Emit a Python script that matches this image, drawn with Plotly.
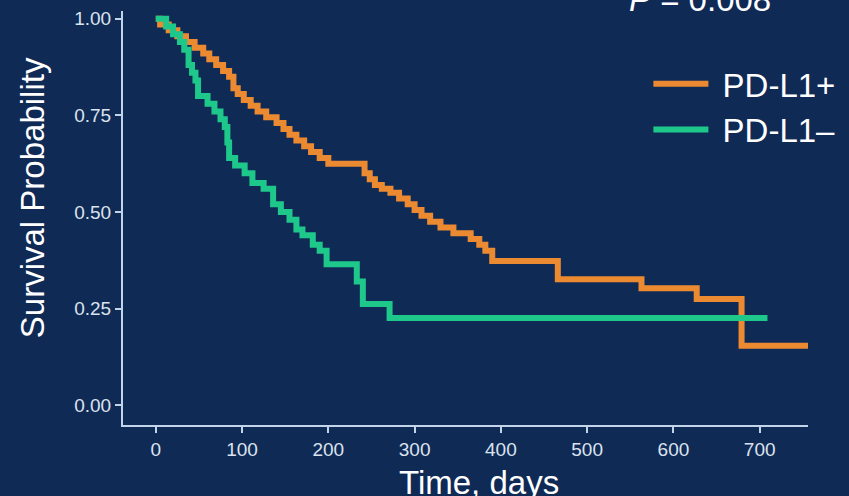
import plotly.graph_objects as go

# ---- data ----
pos_time = [0, 5, 15, 25, 35, 45, 55, 62, 70, 78, 85, 90, 95, 102, 110, 118, 128, 140, 148,
            155, 163, 172, 180, 190, 200, 242, 248, 254, 262, 272, 282, 292, 300, 308, 318,
            330, 345, 365, 375, 382, 390, 466, 563, 627, 679, 756]
pos_surv = [1.0, 0.985, 0.97, 0.955, 0.94, 0.925, 0.91, 0.895, 0.88, 0.865, 0.85, 0.82, 0.805,
            0.79, 0.775, 0.76, 0.745, 0.73, 0.715, 0.70, 0.685, 0.67, 0.655, 0.64, 0.625, 0.60,
            0.585, 0.57, 0.56, 0.55, 0.535, 0.52, 0.505, 0.49, 0.475, 0.46, 0.445, 0.43, 0.415,
            0.40, 0.373, 0.326, 0.303, 0.275, 0.154, 0.154]

neg_time = [0, 12, 20, 28, 33, 38, 42, 46, 49, 60, 68, 75, 80, 83, 85, 92, 103, 112, 125, 136,
            145, 155, 163, 170, 182, 190, 198, 233, 240, 271, 709]
neg_surv = [1.0, 0.98, 0.96, 0.94, 0.92, 0.88, 0.86, 0.84, 0.80, 0.78, 0.76, 0.74, 0.72, 0.68,
            0.64, 0.62, 0.60, 0.575, 0.56, 0.52, 0.50, 0.48, 0.455, 0.44, 0.415, 0.40, 0.365,
            0.32, 0.262, 0.226, 0.226]

series_names = ["PD-L1+", "PD-L1\u2013"]
x_ticks = [0, 100, 200, 300, 400, 500, 600, 700]
y_ticks = [0.0, 0.25, 0.5, 0.75, 1.0]
y_tick_labels = ["0.00", "0.25", "0.50", "0.75", "1.00"]
p_value_text = "<i>P</i> = 0.008"

# ---- style ----
BG = "#102a56"
AXIS = "#c3d3ea"
TICKTXT = "#dbe3ee"
ORANGE = "#ec8a32"
GREEN = "#1ec88a"
FONT = "Arial, Liberation Sans, sans-serif"

fig = go.Figure()
fig.add_trace(go.Scatter(x=pos_time, y=pos_surv, mode="lines", name="\u00a0" + series_names[0],
                         line=dict(color=ORANGE, width=6, shape="hv")))
fig.add_trace(go.Scatter(x=neg_time, y=neg_surv, mode="lines", name="\u00a0" + series_names[1],
                         line=dict(color=GREEN, width=6, shape="hv")))

fig.update_layout(
    width=849, height=496,
    paper_bgcolor=BG, plot_bgcolor=BG,
    margin=dict(l=123, r=41, t=8, b=71),
    font=dict(family=FONT, color="white"),
    showlegend=True,
    legend=dict(x=0.767, y=0.892, xanchor="left", yanchor="top",
                bgcolor="rgba(0,0,0,0)", font=dict(size=33, color="white"),
                itemwidth=55, tracegroupgap=0),
    xaxis=dict(range=[-38, 756], tickvals=x_ticks, showgrid=False, zeroline=False,
               showline=True, linecolor=AXIS, linewidth=2, ticks="outside",
               ticklen=6, tickwidth=2, tickcolor=AXIS,
               tickfont=dict(size=19, color=TICKTXT)),
    yaxis=dict(range=[-0.051, 1.02], tickvals=y_ticks, ticktext=y_tick_labels,
               showgrid=False, zeroline=False,
               showline=True, linecolor=AXIS, linewidth=2, ticks="outside",
               ticklen=6, tickwidth=2, tickcolor=AXIS,
               tickfont=dict(size=19, color=TICKTXT)),
)

fig.add_annotation(text="Survival Probability", xref="paper", yref="paper",
                   x=-0.133, y=0.55, xanchor="center", yanchor="middle", textangle=-90,
                   showarrow=False, font=dict(size=33, color="white", family=FONT))
fig.add_annotation(text="Time, days", xref="paper", yref="paper",
                   x=0.52, y=-0.14, xanchor="center", yanchor="middle",
                   showarrow=False, font=dict(size=33, color="white", family=FONT))
fig.add_annotation(text=p_value_text, xref="paper", yref="paper",
                   x=0.842, y=0.979, xanchor="center", yanchor="bottom",
                   showarrow=False, font=dict(size=33, color="white", family=FONT))

fig.write_html("out.html")
